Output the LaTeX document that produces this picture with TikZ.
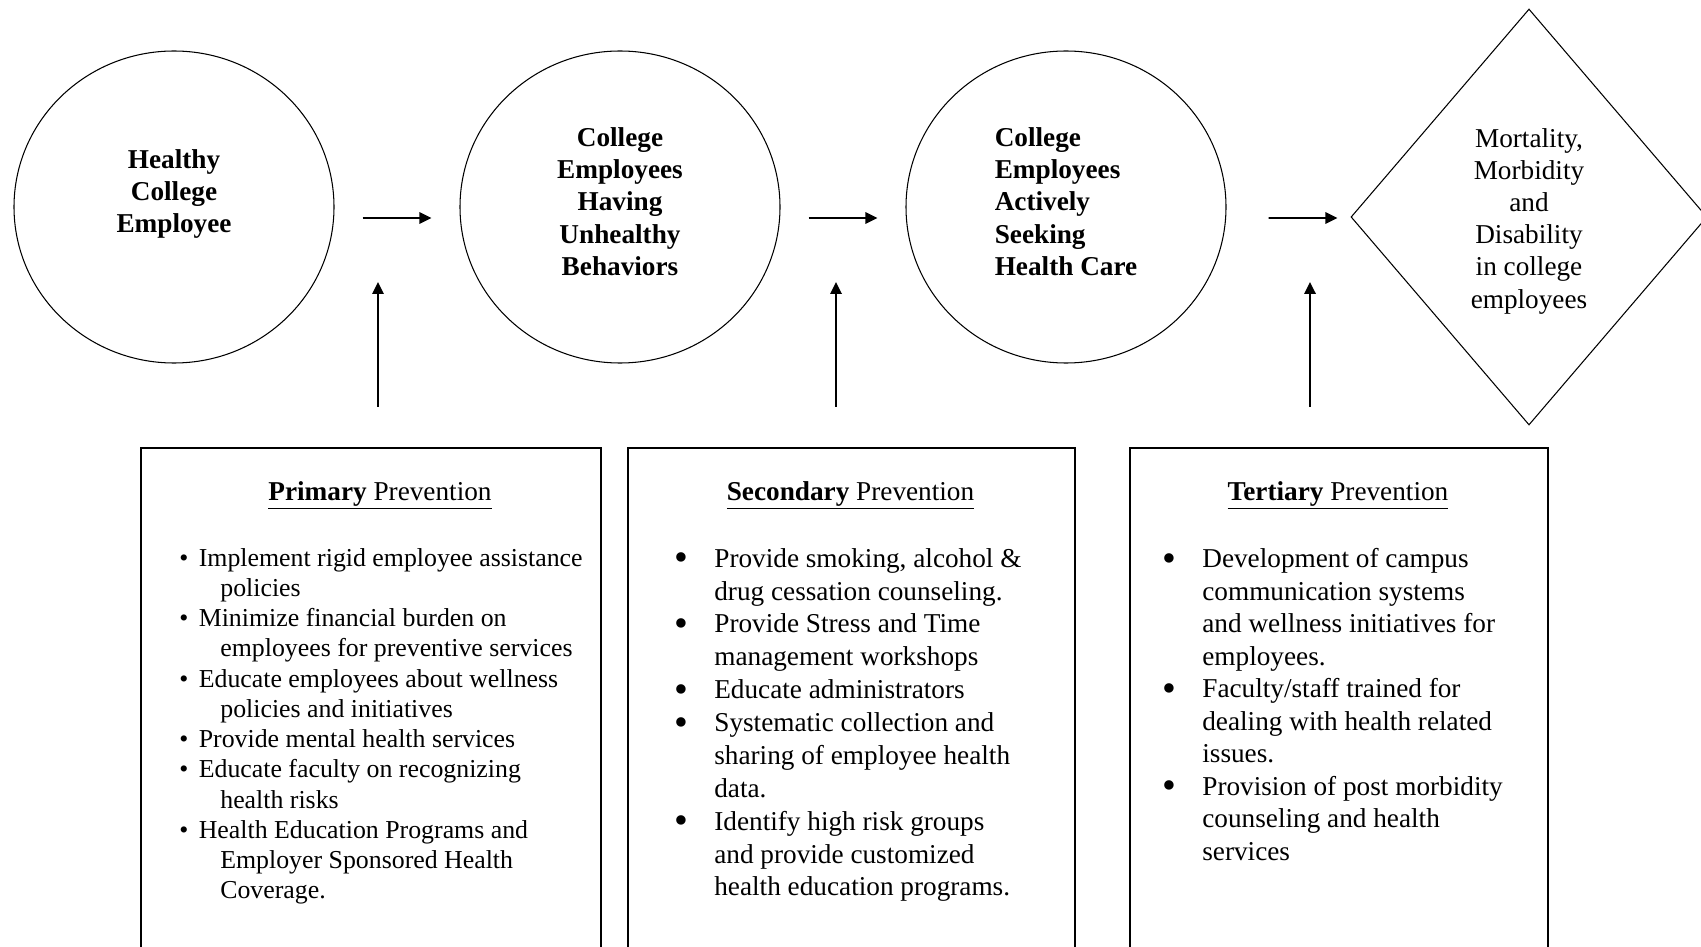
\documentclass[tikz,border=0pt]{standalone}
\usepackage{fontspec}
\setmainfont{Liberation Serif}
\usetikzlibrary{shapes.geometric,arrows.meta}
\newcommand{\Bul}[1]{\makebox[#1][l]{\textbullet}}
\newcommand{\BigBul}[1]{\makebox[#1][l]{\smash{\raisebox{-0.13em}{\scalebox{1.45}{\textbullet}}}}}
\newcommand{\Ind}[1]{\hspace*{#1}}

\begin{document}
\begin{tikzpicture}[
  stage/.style={draw, ellipse, line width=0.6pt, minimum width=6.4cm, minimum height=6.24cm,
    font=\bfseries\fontsize{15.5}{18.3}\selectfont},
  outcome/.style={draw, diamond, line width=0.6pt, inner sep=0pt, minimum width=7.12cm,
    minimum height=8.32cm, align=center, font=\fontsize{15.5}{18.3}\selectfont},
  level/.style={draw, line width=0.9pt, anchor=north west, inner sep=0pt, minimum height=10.5cm},
  title/.style={anchor=base, font=\fontsize{15.5}{18}\selectfont},
  items/.style={anchor=north west, inner sep=0pt, align=left},
  flow/.style={-{Triangle[length=0.24cm,width=0.23cm]}, line width=1pt}
]
\useasboundingbox (0,0) rectangle (34.02,-18.94);
\clip (0,0) rectangle (34.02,-18.94);

\node [stage, align=center] (hc) at (3.48,-4.14) {Healthy\\College\\Employee\\\mbox{}};
\node [stage, align=center] (uh) at (12.40,-4.14) {College\\Employees\\Having\\Unhealthy\\Behaviors\\[-0.42cm]\mbox{}};
\node [stage, align=left] (sh) at (21.32,-4.14) {College\\Employees\\Actively\\Seeking\\Health Care\\[-0.42cm]\mbox{}};
\node [outcome] (mm) at (30.58,-4.34) {\mbox{}\\[-0.1cm]Mortality,\\Morbidity\\and\\Disability\\in college\\employees};

\node [level, minimum width=9.2cm] (pb) at (2.80,-8.94) {};
\node [level, minimum width=8.94cm] (sb) at (12.54,-8.94) {};
\node [level, minimum width=8.36cm] (tb) at (22.58,-8.94) {};

\node [title] (pt) at (7.60,-10.0) {\underline{\textbf{Primary} Prevention}};
\node [title] (st) at (17.01,-10.0) {\underline{\textbf{Secondary} Prevention}};
\node [title] (tt) at (26.76,-10.0) {\underline{\textbf{Tertiary} Prevention}};

\node [items, font=\fontsize{14.7}{17.2}\selectfont] (pl) at (3.58,-10.96) {%
\Bul{0.39cm}Implement rigid employee assistance\\
\Ind{0.82cm}policies\\
\Bul{0.39cm}Minimize financial burden on\\
\Ind{0.82cm}employees for preventive services\\
\Bul{0.39cm}Educate employees about wellness\\
\Ind{0.82cm}policies and initiatives\\
\Bul{0.39cm}Provide mental health services\\
\Bul{0.39cm}Educate faculty on recognizing\\
\Ind{0.82cm}health risks\\
\Bul{0.39cm}Health Education Programs and\\
\Ind{0.82cm}Employer Sponsored Health\\
\Ind{0.82cm}Coverage.};

\node [items, font=\fontsize{15.5}{18.7}\selectfont] (sl) at (13.48,-10.96) {%
\BigBul{0.80cm}Provide smoking, alcohol \&\\
\Ind{0.80cm}drug cessation counseling.\\
\BigBul{0.80cm}Provide Stress and Time\\
\Ind{0.80cm}management workshops\\
\BigBul{0.80cm}Educate administrators\\
\BigBul{0.80cm}Systematic collection and\\
\Ind{0.80cm}sharing of employee health\\
\Ind{0.80cm}data.\\
\BigBul{0.80cm}Identify high risk groups\\
\Ind{0.80cm}and provide customized\\
\Ind{0.80cm}health education programs.};

\node [items, font=\fontsize{15.5}{18.5}\selectfont] (tl) at (23.24,-10.96) {%
\BigBul{0.80cm}Development of campus\\
\Ind{0.80cm}communication systems\\
\Ind{0.80cm}and wellness initiatives for\\
\Ind{0.80cm}employees.\\
\BigBul{0.80cm}Faculty/staff trained for\\
\Ind{0.80cm}dealing with health related\\
\Ind{0.80cm}issues.\\
\BigBul{0.80cm}Provision of post morbidity\\
\Ind{0.80cm}counseling and health\\
\Ind{0.80cm}services};

\coordinate (p0) at (7.56,-8.14);
\coordinate (p1) at (7.56,-5.64);
\coordinate (s0) at (16.72,-8.14);
\coordinate (s1) at (16.72,-5.64);
\coordinate (t0) at (26.20,-8.14);
\coordinate (t1) at (26.20,-5.64);

\path [flow]

([yshift=-0.22cm]hc.east)
edge [shorten <=0.56cm, shorten >=0.56cm]
([yshift=-0.22cm]uh.west)

([yshift=-0.22cm]uh.east)
edge [shorten <=0.56cm, shorten >=0.56cm]
([yshift=-0.22cm]sh.west)

([yshift=-0.22cm]sh.east)
edge [shorten <=0.84cm, shorten >=0.26cm]
([yshift=-0.02cm]mm.west)

(p0) edge (p1)
(s0) edge (s1)
(t0) edge (t1)

;
\end{tikzpicture}
\end{document}
